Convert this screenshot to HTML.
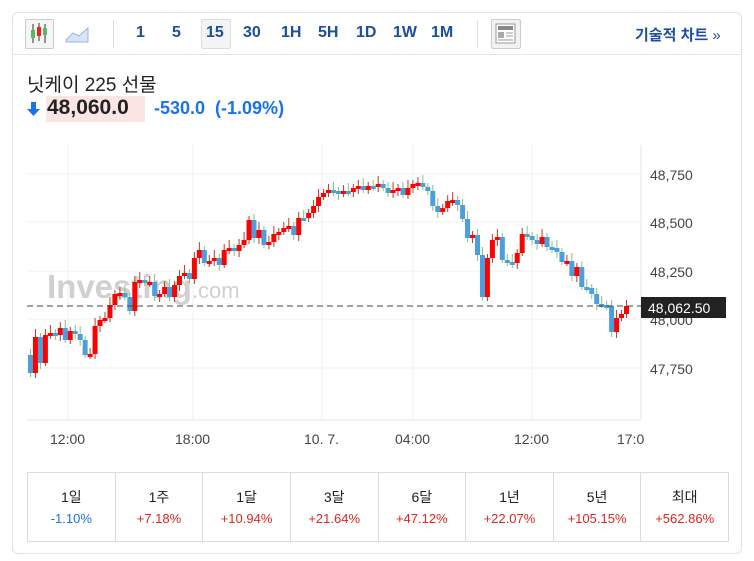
<!DOCTYPE html>
<html><head><meta charset="utf-8"><style>
body{margin:0;background:#fff;width:754px;height:561px;overflow:hidden;font-family:"Liberation Sans","Noto Sans CJK KR",sans-serif;position:relative}
.box{position:absolute;left:12px;top:12px;width:728px;height:540px;border:1px solid #dfe1e5;border-radius:6px}
.tb{position:absolute;left:12px;top:17px;width:729px;height:37px;border-bottom:1px solid #e3e5e8}
.t{position:absolute;top:24px;font-size:16px;font-weight:bold;color:#1b4f9c}
.tbl{position:absolute;left:27px;top:472px;width:700px;height:68px;border:1px solid #d9dbe0;display:flex}
.tbl div{flex:1;border-right:1px solid #d9dbe0;text-align:center;font-size:14px;color:#222;padding-top:14px;box-sizing:border-box}
.tbl div:last-child{border-right:none}
.tbl span{display:block;font-size:13px;margin-top:4px;color:#e0261f}
</style></head><body>
<div class="box"></div>
<div class="tb"></div>
<div style="position:absolute;left:25px;top:19px;width:27px;height:28px;border:1px solid #ccc;border-radius:2px;background:#f6f6f6"></div>
<svg style="position:absolute;left:25px;top:19px" width="30" height="30"><line x1="8" y1="5" x2="8" y2="24" stroke="#333"/><rect x="6" y="11" width="4" height="8" fill="#5cb85c"/><line x1="14" y1="4" x2="14" y2="22" stroke="#333"/><rect x="12" y="8" width="4" height="9" fill="#e22"/><line x1="20" y1="5" x2="20" y2="24" stroke="#333"/><rect x="18" y="9" width="4" height="7" fill="#5cb85c"/></svg>
<svg style="position:absolute;left:64px;top:24px" width="28" height="20"><path d="M2 16 L9 9 L15 12 L24 4 L24 18 L2 18Z" fill="#d6e4f5" stroke="#9bb7db"/></svg>
<div style="position:absolute;left:113px;top:20px;width:1px;height:28px;background:#ddd"></div>
<div style="position:absolute;left:201px;top:19px;width:28px;height:28px;border:1px solid #ddd;background:#f4f4f4;border-radius:2px"></div>
<div class="t" style="left:136px">1</div><div class="t" style="left:172px">5</div><div class="t" style="left:206px">15</div><div class="t" style="left:243px">30</div><div class="t" style="left:281px">1H</div><div class="t" style="left:318px">5H</div><div class="t" style="left:356px">1D</div><div class="t" style="left:393px">1W</div><div class="t" style="left:431px">1M</div>
<div style="position:absolute;left:477px;top:20px;width:1px;height:28px;background:#ddd"></div>
<div style="position:absolute;left:491px;top:19px;width:28px;height:28px;border:1px solid #ccc;background:#f2f2f2;border-radius:2px"></div>
<svg style="position:absolute;left:495px;top:23px" width="22" height="22"><rect x="1" y="1" width="19" height="19" fill="#fff" stroke="#999"/><rect x="3" y="3" width="15" height="4" fill="#888"/><rect x="3" y="9" width="6" height="6" fill="#aaa"/><line x1="11" y1="10" x2="18" y2="10" stroke="#999"/><line x1="11" y1="13" x2="18" y2="13" stroke="#999"/><line x1="3" y1="17" x2="18" y2="17" stroke="#999"/></svg>
<div class="t" style="left:635px;font-size:15px">기술적 차트 <span style="font-weight:normal">»</span></div>
<div style="position:absolute;left:27px;top:70px;font-size:19px;color:#222">닛케이 225 선물</div>
<svg style="position:absolute;left:27px;top:101px" width="14" height="16"><path d="M4 1h5v7h4l-6.5 7L0 8h4z" fill="#1a73e8"/></svg>
<div style="position:absolute;left:46px;top:96px;height:26px;width:99px;background:#fbe6e3"></div>
<div style="position:absolute;left:47px;top:96px;font-size:21px;font-weight:bold;color:#222">48,060.0</div>
<div style="position:absolute;left:154px;top:98px;font-size:18px;font-weight:bold;color:#1a73e8">-530.0 &nbsp;(-1.09%)</div>
<svg id="c" style="position:absolute;left:0;top:0" width="754" height="470">
<g stroke="#f0f1f3"><line x1="68" y1="145" x2="68" y2="420"/><line x1="193" y1="145" x2="193" y2="420"/><line x1="322" y1="145" x2="322" y2="420"/><line x1="413" y1="145" x2="413" y2="420"/><line x1="532" y1="145" x2="532" y2="420"/>
<line x1="27" y1="174" x2="641" y2="174"/><line x1="27" y1="222" x2="641" y2="222"/><line x1="27" y1="271" x2="641" y2="271"/><line x1="27" y1="319" x2="641" y2="319"/><line x1="27" y1="368" x2="641" y2="368"/></g>
<line x1="641" y1="145" x2="641" y2="420" stroke="#e3e5e8"/><line x1="27" y1="420" x2="641" y2="420" stroke="#e3e5e8"/>
<text x="47" y="298" font-size="33" font-weight="bold" fill="#d0d0d0" font-family="Liberation Sans">Investing<tspan font-weight="normal" font-size="22">.com</tspan></text>
<g id="k"></g>
<line x1="27" y1="306" x2="641" y2="306" stroke="#444" stroke-dasharray="6,4"/>
<g font-size="14" fill="#444" font-family="Liberation Sans"><text x="650" y="180">48,750</text><text x="650" y="228">48,500</text><text x="650" y="277">48,250</text><text x="650" y="325">48,000</text><text x="650" y="374">47,750</text>
<text x="50" y="444">12:00</text><text x="175" y="444">18:00</text><text x="304" y="444">10. 7.</text><text x="395" y="444">04:00</text><text x="514" y="444">12:00</text><text x="617" y="444">17:0</text></g>
<rect x="641" y="297" width="85" height="21" fill="#222"/><text x="648" y="313" font-size="14" fill="#fff" font-family="Liberation Sans">48,062.50</text>
</svg>
<div class="tbl"><div>1일<span style="color:#1a73e8">-1.10%</span></div><div>1주<span>+7.18%</span></div><div>1달<span>+10.94%</span></div><div>3달<span>+21.64%</span></div><div>6달<span>+47.12%</span></div><div>1년<span>+22.07%</span></div><div>5년<span>+105.15%</span></div><div>최대<span>+562.86%</span></div></div>
<script>
var c=[355,373,337,363,335,333,335,328,340,331,334,340,355,354,326,320,318,305,294,293,297,311,282,280,283,282,296,294,287,297,285,276,273,279,258,250,263,261,258,265,250,248,251,245,240,220,238,230,245,242,234,232,228,226,235,218,218,213,206,197,193,190,191,194,191,192,188,186,190,186,186,184,188,193,190,188,195,188,184,183,187,191,206,212,208,201,200,205,219,238,235,255,297,258,240,237,260,262,263,253,234,236,240,244,237,247,248,252,262,261,276,267,287,288,294,304,305,306,332,318,314,306];
var n=c.length-1,s="";
for(var i=1;i<=n;i++){var x=28+(i-1)*(596/(n-1)),o=c[i-1],cl=c[i],up=cl<o,t=Math.min(o,cl),b=Math.max(o,cl),h=Math.max(b-t,3);
var col=up?"#f00":"#4a9fdc",wc=up?"#c0392b":"#8bc07f";
s+='<line x1="'+(x+2.5)+'" y1="'+(t-4-(i%3)*2)+'" x2="'+(x+2.5)+'" y2="'+(b+3+(i%4))+'" stroke="'+wc+'"/>';
s+='<rect x="'+x+'" y="'+t+'" width="5" height="'+h+'" fill="'+col+'"/>';}
document.getElementById("k").innerHTML=s;
</script>
</body></html>
